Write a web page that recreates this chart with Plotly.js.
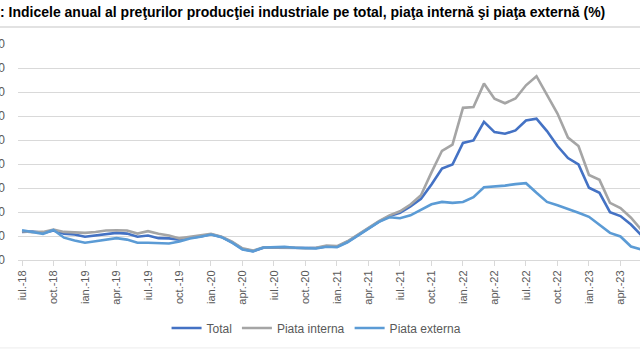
<!DOCTYPE html>
<html>
<head>
<meta charset="utf-8">
<script src="https://cdn.plot.ly/plotly-3.0.1.min.js"></script>
<style>html,body{margin:0;padding:0;background:#fff;}#chart{width:640px;height:360px;}</style>
</head>
<body>
<div id="chart"></div>
<script>
const months = [
  "iul.-18","aug.-18","sep.-18","oct.-18","noi.-18","dec.-18",
  "ian.-19","feb.-19","mar.-19","apr.-19","mai-19","iun.-19",
  "iul.-19","aug.-19","sep.-19","oct.-19","noi.-19","dec.-19",
  "ian.-20","feb.-20","mar.-20","apr.-20","mai-20","iun.-20",
  "iul.-20","aug.-20","sep.-20","oct.-20","noi.-20","dec.-20",
  "ian.-21","feb.-21","mar.-21","apr.-21","mai-21","iun.-21",
  "iul.-21","aug.-21","sep.-21","oct.-21","noi.-21","dec.-21",
  "ian.-22","feb.-22","mar.-22","apr.-22","mai-22","iun.-22",
  "iul.-22","aug.-22","sep.-22","oct.-22","noi.-22","dec.-22",
  "ian.-23","feb.-23","mar.-23","apr.-23","mai-23","iun.-23"
];
const tickLabels = ["iul.-18","oct.-18","ian.-19","apr.-19","iul.-19","oct.-19","ian.-20","apr.-20",
  "iul.-20","oct.-20","ian.-21","apr.-21","iul.-21","oct.-21","ian.-22","apr.-22","iul.-22","oct.-22","ian.-23","apr.-23"];

const total = [
  101.7, 101.9, 101.3, 102.3, 101.0, 100.6, 99.7, 100.2, 100.9, 101.3,
  101.0, 99.7, 100.2, 99.1, 99.0, 98.5, 99.3, 99.8, 100.7, 99.6,
  97.4, 94.6, 93.7, 95.1, 95.1, 95.1, 94.9, 94.8, 95.0, 95.6,
  95.5, 97.6, 100.4, 103.2, 106.0, 108.3, 109.7, 112.3, 115.5, 121.5,
  128.1, 129.8, 138.8, 139.8, 147.6, 143.3, 142.6, 144.0, 148.1, 148.9,
  143.7, 137.5, 132.5, 129.8, 120.1, 118.0, 109.9, 108.3, 104.8, 100.2
];
const internal = [
  102.0, 101.6, 101.7, 102.7, 101.7, 101.6, 101.3, 101.7, 102.3, 102.4,
  102.3, 101.0, 102.0, 100.9, 100.2, 99.0, 99.7, 100.2, 100.9, 99.7,
  97.6, 94.9, 93.9, 95.3, 95.3, 95.3, 95.1, 94.9, 95.1, 96.0,
  95.8, 97.8, 100.6, 103.4, 106.2, 108.6, 110.3, 113.1, 117.0, 126.5,
  135.5, 138.1, 153.4, 153.7, 163.5, 157.2, 155.3, 157.3, 162.8, 166.6,
  159.0, 151.0, 141.0, 137.5, 125.4, 123.4, 113.8, 111.6, 107.6, 102.5
];
const external = [
  102.4, 101.8, 100.9, 102.5, 99.3, 98.1, 97.2, 97.8, 98.5, 99.1,
  98.5, 97.2, 97.2, 96.9, 96.9, 97.7, 99.0, 99.7, 100.6, 99.5,
  97.2, 94.4, 93.6, 95.2, 95.3, 95.5, 95.1, 94.8, 94.8, 95.5,
  95.3, 97.4, 100.2, 103.0, 105.9, 107.8, 107.4, 108.6, 110.8, 113.2,
  114.2, 113.8, 114.2, 116.2, 120.3, 120.5, 121.0, 121.6, 122.0, 118.0,
  114.2, 112.8, 111.4, 109.7, 108.0, 104.6, 101.3, 99.8, 95.6, 94.4
];
const yTicks = [90, 100, 110, 120, 130, 140, 150, 160, 170, 180];

const names = ["Total", "Piata interna", "Piata externa"];
const colors = ["#4472C4", "#A5A5A5", "#5B9BD5"];
const series = [total, internal, external];

const traces = series.map((s, k) => ({
  type: "scatter", mode: "lines", name: names[k],
  x: months, y: s,
  line: {color: colors[k], width: 2.6, shape: "linear"},
  hoverinfo: "skip"
}));

const layout = {
  width: 640, height: 360,
  margin: {l: 18, r: 0, t: 44, b: 100},
  paper_bgcolor: "#ffffff", plot_bgcolor: "#ffffff",
  font: {family: "Liberation Sans, Arial, sans-serif", color: "#595959", size: 12},
  title: {
    text: ": Indicele anual al preţurilor producţiei industriale pe total, piaţa internă şi piaţa externă (%)",
    font: {family: "Liberation Sans Narrow, Liberation Sans, Arial, sans-serif", size: 14, color: "#000000", weight: "bold"},
    x: 0, xref: "container", xanchor: "left",
    y: 1 - 12/360, yref: "container", yanchor: "middle",
    pad: {l: 0, t: 0, r: 0, b: 0}
  },
  xaxis: {
    type: "category",
    range: [-0.381, 58.86],
    tickmode: "array", tickvals: tickLabels, ticktext: tickLabels,
    tickangle: -90,
    tickfont: {size: 11, color: "#595959"},
    ticks: "outside", ticklen: 5, tickcolor: "#d9d9d9", tickwidth: 1,
    showline: true, linecolor: "#d9d9d9", linewidth: 1,
    showgrid: false, zeroline: false, fixedrange: true
  },
  yaxis: {
    range: [90, 180],
    tickmode: "array", tickvals: yTicks, ticktext: yTicks.map(String),
    tickfont: {size: 12, color: "#595959"},
    ticks: "", ticklabelstandoff: 12,
    showgrid: true, gridcolor: "#d9d9d9", gridwidth: 1,
    showline: false, zeroline: false, fixedrange: true
  },
  showlegend: true,
  legend: {
    orientation: "h", x: 0.48, xanchor: "center", y: -0.315, yanchor: "middle",
    font: {size: 12, color: "#595959"}, bgcolor: "rgba(0,0,0,0)",
    traceorder: "normal"
  },
  shapes: [
    {type: "line", xref: "paper", yref: "paper", x0: -0.03, x1: 1, y0: 1.0787, y1: 1.0787,
     line: {color: "#d9d9d9", width: 1.5}},
    {type: "line", xref: "paper", yref: "paper", x0: -0.03, x1: 1, y0: -0.407, y1: -0.407,
     line: {color: "#ececec", width: 1}}
  ]
};

Plotly.newPlot("chart", traces, layout, {staticPlot: true, displayModeBar: false});
</script>
</body>
</html>
